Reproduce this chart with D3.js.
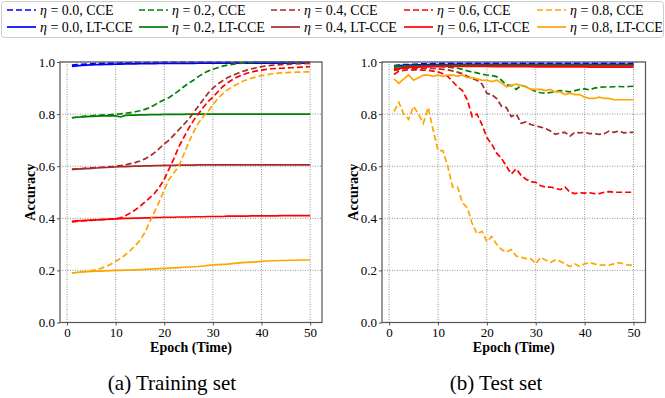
<!DOCTYPE html>
<html>
<head>
<meta charset="utf-8">
<script src="https://cdn.jsdelivr.net/npm/d3@7"></script>
<style>
  html, body { margin: 0; padding: 0; background: #fff; }
  svg { display: block; font-family: "Liberation Serif", "Times New Roman", serif; }
</style>
</head>
<body>
<script>
// chart data (epochs 1..50)
const epochs = d3.range(1, 51);
const etaLabels = ["0.0", "0.2", "0.4", "0.6", "0.8"];
const methods = ["CCE", "LT-CCE"];
const xTicks = [0, 10, 20, 30, 40, 50];
const yTicks = [0.0, 0.2, 0.4, 0.6, 0.8, 1.0];

// training set accuracy
const train00CCE = [0.988,0.990,0.991,0.992,0.993,0.994,0.995,0.995,0.996,0.996,0.997,0.997,0.997,0.998,0.998,0.998,0.998,0.998,0.999,0.999,0.999,0.999,0.999,0.999,0.999,0.999,0.999,0.999,0.999,0.999,0.999,0.999,0.999,0.999,0.999,0.999,0.999,0.999,0.999,0.999,0.999,0.999,0.999,0.999,0.999,0.999,0.999,0.999,0.999,0.999];
const train00LT = [0.983,0.985,0.987,0.988,0.989,0.990,0.990,0.991,0.991,0.992,0.992,0.993,0.993,0.993,0.994,0.994,0.994,0.994,0.995,0.995,0.995,0.995,0.995,0.995,0.995,0.995,0.996,0.996,0.996,0.996,0.996,0.996,0.996,0.996,0.996,0.996,0.996,0.996,0.996,0.996,0.996,0.996,0.996,0.996,0.996,0.996,0.996,0.996,0.996,0.996];
const train02CCE = [0.786,0.788,0.790,0.792,0.793,0.795,0.796,0.797,0.798,0.800,0.801,0.803,0.806,0.809,0.813,0.818,0.825,0.835,0.846,0.855,0.864,0.876,0.890,0.905,0.918,0.930,0.944,0.955,0.965,0.972,0.978,0.984,0.988,0.991,0.994,0.996,0.997,0.998,0.999,0.999,0.999,0.999,0.999,0.999,0.999,0.999,0.999,0.999,0.999,0.999];
const train02LT = [0.786,0.788,0.789,0.790,0.791,0.792,0.793,0.793,0.794,0.793,0.789,0.795,0.796,0.796,0.797,0.797,0.798,0.798,0.798,0.799,0.799,0.799,0.799,0.799,0.800,0.800,0.800,0.800,0.800,0.800,0.800,0.800,0.800,0.800,0.800,0.800,0.800,0.800,0.800,0.800,0.800,0.800,0.800,0.800,0.800,0.800,0.800,0.800,0.800,0.800];
const train04CCE = [0.588,0.590,0.591,0.593,0.594,0.595,0.596,0.597,0.598,0.600,0.602,0.605,0.610,0.614,0.620,0.628,0.638,0.652,0.668,0.686,0.700,0.720,0.740,0.760,0.780,0.805,0.830,0.855,0.880,0.900,0.915,0.928,0.940,0.948,0.956,0.963,0.969,0.974,0.978,0.982,0.985,0.987,0.989,0.990,0.991,0.992,0.993,0.994,0.994,0.995];
const train04LT = [0.588,0.589,0.590,0.591,0.592,0.593,0.594,0.595,0.596,0.597,0.598,0.598,0.599,0.600,0.600,0.601,0.601,0.602,0.602,0.603,0.603,0.603,0.604,0.604,0.604,0.604,0.605,0.605,0.605,0.605,0.605,0.605,0.605,0.605,0.605,0.605,0.605,0.605,0.605,0.605,0.605,0.605,0.605,0.605,0.605,0.605,0.605,0.605,0.605,0.605];
const train06CCE = [0.386,0.388,0.390,0.391,0.392,0.394,0.395,0.396,0.397,0.398,0.402,0.410,0.420,0.432,0.446,0.462,0.478,0.496,0.520,0.550,0.590,0.630,0.675,0.710,0.745,0.775,0.800,0.825,0.848,0.865,0.885,0.905,0.920,0.932,0.942,0.950,0.957,0.962,0.966,0.969,0.972,0.974,0.975,0.976,0.977,0.978,0.979,0.980,0.981,0.982];
const train06LT = [0.388,0.390,0.391,0.392,0.393,0.394,0.395,0.396,0.397,0.398,0.399,0.400,0.400,0.401,0.401,0.402,0.402,0.403,0.403,0.404,0.404,0.404,0.405,0.405,0.405,0.406,0.406,0.406,0.407,0.407,0.407,0.407,0.408,0.408,0.408,0.408,0.408,0.409,0.409,0.409,0.409,0.409,0.409,0.410,0.410,0.410,0.410,0.410,0.410,0.410];
const train08CCE = [0.190,0.192,0.194,0.196,0.199,0.203,0.208,0.215,0.224,0.235,0.246,0.260,0.276,0.295,0.315,0.345,0.385,0.425,0.465,0.510,0.550,0.575,0.600,0.645,0.690,0.730,0.765,0.790,0.810,0.835,0.860,0.878,0.893,0.905,0.915,0.925,0.932,0.938,0.943,0.948,0.951,0.954,0.956,0.958,0.959,0.960,0.961,0.961,0.962,0.962];
const train08LT = [0.190,0.192,0.194,0.195,0.196,0.197,0.197,0.198,0.199,0.200,0.200,0.201,0.201,0.202,0.203,0.204,0.205,0.206,0.207,0.208,0.209,0.210,0.211,0.212,0.213,0.214,0.215,0.217,0.219,0.221,0.222,0.223,0.224,0.226,0.228,0.230,0.231,0.232,0.233,0.235,0.236,0.237,0.237,0.238,0.238,0.239,0.239,0.240,0.240,0.240];

// test set accuracy
const test00CCE = [0.986,0.988,0.990,0.990,0.991,0.992,0.993,0.993,0.994,0.994,0.995,0.995,0.995,0.995,0.995,0.995,0.995,0.995,0.995,0.995,0.995,0.995,0.995,0.995,0.995,0.995,0.995,0.995,0.995,0.995,0.995,0.995,0.995,0.995,0.995,0.995,0.995,0.995,0.995,0.995,0.995,0.995,0.995,0.995,0.995,0.995,0.995,0.995,0.995,0.995];
const test00LT = [0.984,0.986,0.987,0.988,0.988,0.989,0.989,0.990,0.990,0.990,0.990,0.990,0.991,0.991,0.991,0.991,0.991,0.991,0.991,0.991,0.991,0.991,0.991,0.991,0.991,0.991,0.991,0.991,0.991,0.991,0.991,0.991,0.991,0.991,0.991,0.991,0.991,0.991,0.991,0.991,0.991,0.991,0.991,0.991,0.991,0.991,0.991,0.991,0.991,0.991];
const test02CCE = [0.985,0.984,0.985,0.985,0.986,0.985,0.985,0.984,0.984,0.983,0.982,0.980,0.978,0.976,0.972,0.966,0.962,0.958,0.953,0.950,0.948,0.944,0.930,0.912,0.910,0.895,0.910,0.905,0.895,0.887,0.882,0.880,0.883,0.886,0.890,0.888,0.885,0.890,0.895,0.897,0.893,0.900,0.903,0.904,0.904,0.905,0.906,0.905,0.906,0.907];
const test02LT = [0.980,0.982,0.983,0.984,0.985,0.985,0.986,0.986,0.986,0.987,0.987,0.987,0.987,0.988,0.988,0.988,0.988,0.988,0.988,0.988,0.988,0.988,0.988,0.988,0.988,0.988,0.988,0.988,0.988,0.988,0.988,0.988,0.988,0.988,0.988,0.988,0.988,0.988,0.988,0.988,0.988,0.988,0.988,0.988,0.988,0.988,0.988,0.988,0.988,0.988];
const test04CCE = [0.968,0.972,0.974,0.975,0.975,0.976,0.976,0.975,0.975,0.974,0.972,0.970,0.966,0.961,0.955,0.945,0.936,0.930,0.915,0.880,0.875,0.860,0.830,0.825,0.790,0.800,0.765,0.770,0.760,0.755,0.750,0.745,0.735,0.722,0.728,0.730,0.715,0.730,0.728,0.730,0.725,0.725,0.722,0.725,0.735,0.730,0.735,0.728,0.730,0.730];
const test04LT = [0.975,0.977,0.978,0.979,0.980,0.981,0.982,0.982,0.983,0.983,0.983,0.984,0.984,0.984,0.984,0.984,0.985,0.985,0.985,0.985,0.985,0.985,0.985,0.985,0.985,0.985,0.985,0.985,0.985,0.985,0.985,0.985,0.985,0.985,0.985,0.985,0.985,0.985,0.985,0.985,0.985,0.985,0.985,0.985,0.985,0.985,0.985,0.985,0.985,0.985];
const test06CCE = [0.952,0.965,0.968,0.970,0.970,0.970,0.969,0.968,0.965,0.962,0.955,0.945,0.925,0.905,0.890,0.855,0.790,0.800,0.760,0.710,0.685,0.650,0.630,0.600,0.570,0.590,0.565,0.550,0.540,0.538,0.525,0.520,0.520,0.515,0.510,0.520,0.500,0.495,0.498,0.497,0.498,0.495,0.495,0.500,0.502,0.500,0.500,0.500,0.500,0.500];
const test06LT = [0.970,0.974,0.977,0.979,0.980,0.981,0.982,0.982,0.983,0.983,0.983,0.983,0.983,0.983,0.983,0.983,0.983,0.983,0.983,0.983,0.982,0.982,0.982,0.982,0.982,0.982,0.982,0.982,0.982,0.981,0.981,0.981,0.981,0.981,0.981,0.981,0.981,0.981,0.981,0.981,0.980,0.980,0.980,0.980,0.980,0.980,0.980,0.980,0.980,0.980];
const test08CCE = [0.810,0.845,0.800,0.780,0.830,0.800,0.765,0.825,0.740,0.660,0.660,0.600,0.520,0.520,0.460,0.440,0.380,0.340,0.350,0.310,0.330,0.300,0.280,0.270,0.280,0.255,0.250,0.245,0.245,0.225,0.250,0.240,0.230,0.240,0.235,0.225,0.215,0.225,0.215,0.225,0.230,0.225,0.220,0.220,0.220,0.225,0.230,0.225,0.220,0.220];
const test08LT = [0.935,0.918,0.935,0.950,0.930,0.940,0.950,0.950,0.945,0.950,0.945,0.950,0.950,0.945,0.950,0.940,0.940,0.935,0.930,0.930,0.925,0.930,0.920,0.905,0.910,0.915,0.910,0.905,0.895,0.895,0.895,0.890,0.895,0.885,0.885,0.875,0.880,0.875,0.875,0.865,0.860,0.860,0.865,0.860,0.860,0.855,0.855,0.855,0.855,0.855];

const trainCCE = [train00CCE, train02CCE, train04CCE, train06CCE, train08CCE];
const trainLT = [train00LT, train02LT, train04LT, train06LT, train08LT];
const testCCE = [test00CCE, test02CCE, test04CCE, test06CCE, test08CCE];
const testLT = [test00LT, test02LT, test04LT, test06LT, test08LT];

// styling
const colors = ["#0000ff", "#008000", "#a52a2a", "#ff0000", "#ffa500"];
const dash = "6,3";
const W = 665, H = 398;

const svg = d3.select("body").append("svg")
    .attr("width", W)
    .attr("height", H);

svg.append("rect").attr("width", W).attr("height", H).attr("fill", "#fff");

function drawPanel(opt) {
    const x = d3.scaleLinear().domain([-1.45, 52.45]).range([opt.left, opt.right]);
    const y = d3.scaleLinear().domain([0, 1]).range([322.5, 62]);
    const g = svg.append("g");

    // dotted grid
    g.append("g").selectAll("line").data(xTicks).enter().append("line")
        .attr("x1", d => x(d)).attr("x2", d => x(d))
        .attr("y1", y(0)).attr("y2", y(1))
        .attr("stroke", "#777").attr("stroke-width", 0.8)
        .attr("stroke-dasharray", "1,1.5");
    g.append("g").selectAll("line").data(yTicks).enter().append("line")
        .attr("x1", opt.left).attr("x2", opt.right)
        .attr("y1", d => y(d)).attr("y2", d => y(d))
        .attr("stroke", "#777").attr("stroke-width", 0.8)
        .attr("stroke-dasharray", "1,1.5");

    const line = d3.line()
        .x((d, i) => x(epochs[i]))
        .y(d => y(d));

    // CCE then LT-CCE for each noise rate
    etaLabels.forEach((eta, k) => {
        g.append("path").datum(opt.cce[k])
            .attr("d", line).attr("fill", "none")
            .attr("stroke", colors[k]).attr("stroke-width", 1.7)
            .attr("stroke-dasharray", dash);
        g.append("path").datum(opt.lt[k])
            .attr("d", line).attr("fill", "none")
            .attr("stroke", colors[k]).attr("stroke-width", 1.7);
    });

    // axes
    const xAxis = g.append("g").attr("transform", `translate(0,${y(0)})`)
        .call(d3.axisBottom(x).tickValues(xTicks).tickSize(3).tickPadding(2));
    const yAxis = g.append("g").attr("transform", `translate(${opt.left},0)`)
        .call(d3.axisLeft(y).tickValues(yTicks).tickFormat(d3.format(".1f")).tickSize(3).tickPadding(2));
    [xAxis, yAxis].forEach(a => {
        a.select(".domain").remove();
        a.selectAll("line").attr("stroke", "#555");
        a.selectAll("text").attr("font-family", "Liberation Serif")
            .attr("font-size", 13).attr("fill", "#000");
    });

    // frame
    g.append("rect")
        .attr("x", opt.left).attr("y", y(1))
        .attr("width", opt.right - opt.left).attr("height", y(0) - y(1))
        .attr("fill", "none").attr("stroke", "#555").attr("stroke-width", 1.2);

    // axis titles
    g.append("text")
        .attr("transform", `translate(${opt.ylabelX},${(y(0) + y(1)) / 2}) rotate(-90)`)
        .attr("text-anchor", "middle")
        .attr("font-size", 14).attr("font-weight", "bold")
        .text("Accuracy");
    g.append("text")
        .attr("x", (opt.left + opt.right) / 2).attr("y", 352)
        .attr("text-anchor", "middle")
        .attr("font-size", 14).attr("font-weight", "bold")
        .text("Epoch (Time)");

    // caption
    g.append("text")
        .attr("x", opt.captionX).attr("y", 390)
        .attr("text-anchor", "middle")
        .attr("font-size", 21)
        .text(opt.caption);
}

drawPanel({ left: 60, right: 322, cce: trainCCE, lt: trainLT, ylabelX: 35, captionX: 172, caption: "(a)  Training set" });
drawPanel({ left: 382, right: 645.5, cce: testCCE, lt: testLT, ylabelX: 358, captionX: 496, caption: "(b)  Test set" });

// legend
const legend = svg.append("g");
legend.append("rect")
    .attr("x", 1.5).attr("y", 1.5).attr("width", 662).attr("height", 36)
    .attr("rx", 3).attr("fill", "#fff").attr("stroke", "#ccc").attr("stroke-width", 1);

const colX = [7, 139, 271, 404, 537];
const rowY = [10, 27];
etaLabels.forEach((eta, k) => {
    methods.forEach((m, r) => {
        const item = legend.append("g").attr("transform", `translate(${colX[k]},${rowY[r]})`);
        item.append("line")
            .attr("x1", 0).attr("x2", 29).attr("y1", 0).attr("y2", 0)
            .attr("stroke", colors[k]).attr("stroke-width", 1.7)
            .attr("stroke-dasharray", r === 0 ? dash : null);
        const t = item.append("text").attr("x", 33).attr("y", 5)
            .attr("font-size", 14);
        t.append("tspan").attr("font-style", "italic").text("η");
        t.append("tspan").text(` = ${eta}, ${m}`);
    });
});
</script>
</body>
</html>
